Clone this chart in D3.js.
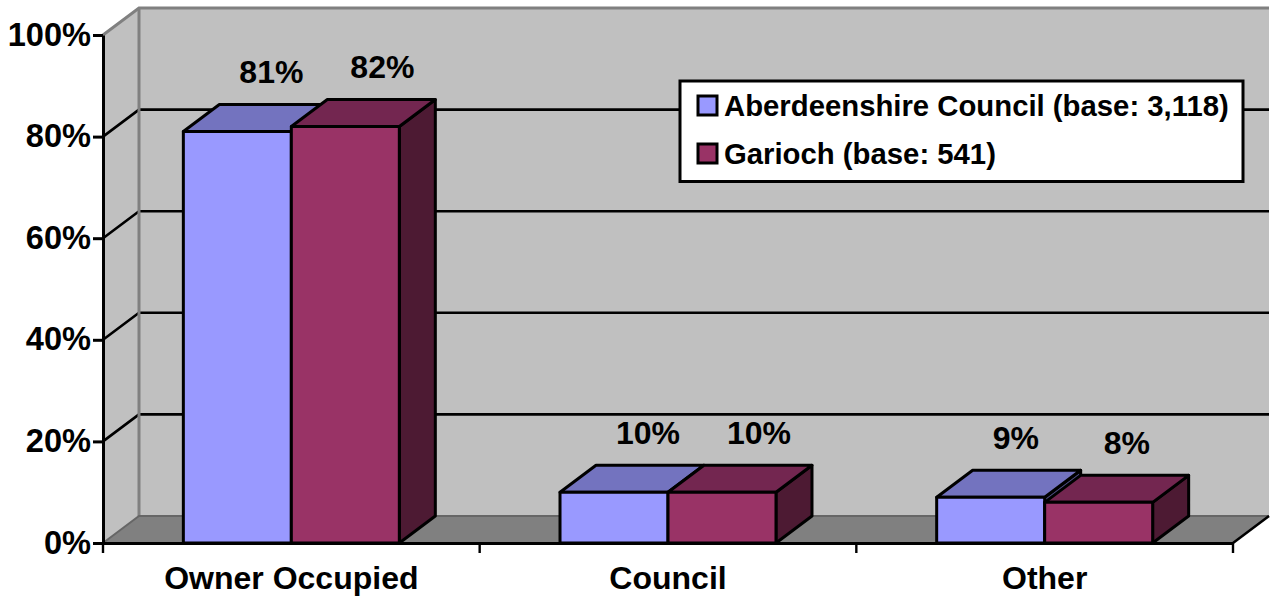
<!DOCTYPE html>
<html><head><meta charset="utf-8">
<script src="https://cdn.jsdelivr.net/npm/d3@7"></script>
<style>
html,body{margin:0;padding:0;background:#fff}
text{font-family:"Liberation Sans",Arial,sans-serif;font-weight:bold;font-size:32px;fill:#000}
text.lg{font-size:29.3px}
text.yt{font-size:32.6px}
</style></head><body>
<svg id="c" width="1271" height="596"></svg>
<script>
const categories = ["Owner Occupied", "Council", "Other"];
const seriesNames = ["Aberdeenshire Council (base: 3,118)", "Garioch (base: 541)"];
const aberdeenshire = [81, 10, 9];
const garioch = [82, 10, 8];
const yTicks = [0, 20, 40, 60, 80, 100];

const colors = {front:["#9999ff","#993366"], top:["#7373bf","#732650"], side:["#4d4d80","#4d1a33"]};
const DX = 36, DY = -27;
const svg = d3.select("#c");
const x = d3.scaleBand().domain(categories).range([103, 1233]);
const x1 = d3.scaleBand().domain(seriesNames).range([0, x.bandwidth()]).paddingInner(0).paddingOuter(0.744);
const y = d3.scaleLinear().domain([0, 100]).range([543, 35]);
const pts = a => a.map(p => p.join(",")).join(" ");
const left = x.range()[0], right = x.range()[1];

// walls and floor
const wall = svg.append("g");
wall.append("polygon").attr("fill","#c0c0c0")
  .attr("points",pts([[left+DX,y(0)+DY],[right+DX,y(0)+DY],[right+DX,y(100)+DY],[left+DX,y(100)+DY]]));
wall.append("polygon").attr("fill","#c0c0c0")
  .attr("points",pts([[left,y(0)],[left+DX,y(0)+DY],[left+DX,y(100)+DY],[left,y(100)]]));
wall.append("polygon").attr("fill","#808080")
  .attr("points",pts([[left,y(0)],[right,y(0)],[right+DX,y(0)+DY],[left+DX,y(0)+DY]]));

// gridlines
yTicks.filter(t => t > 0 && t < 100).forEach(t => {
  wall.append("polyline").attr("fill","none").attr("stroke","#000").attr("stroke-width",2.6)
    .attr("points",pts([[left,y(t)],[left+DX,y(t)+DY],[right+DX,y(t)+DY]]));
});
// wall edges
wall.append("polyline").attr("fill","none").attr("stroke","#808080").attr("stroke-width",3)
  .attr("points",pts([[left,y(100)],[left+DX,y(100)+DY],[right+DX,y(100)+DY]]));
wall.append("line").attr("stroke","#808080").attr("stroke-width",3)
  .attr("x1",left+DX).attr("x2",left+DX).attr("y1",y(100)+DY).attr("y2",y(0)+DY);
wall.append("polyline").attr("fill","none").attr("stroke","#666").attr("stroke-width",2)
  .attr("points",pts([[left,y(0)],[left+DX,y(0)+DY],[right+DX,y(0)+DY]]));
wall.append("line").attr("stroke","#000").attr("stroke-width",2.6)
  .attr("x1",right).attr("x2",right+DX).attr("y1",y(0)).attr("y2",y(0)+DY);

// bars
const series = [aberdeenshire, garioch];
const labelOffset = [56, 59];
categories.forEach((c, ci) => {
  seriesNames.forEach((s, si) => {
    const v = series[si][ci];
    const x0 = x(c) + x1(s), w = x1.bandwidth(), yt = y(v), yb = y(0);
    const g = svg.append("g").attr("stroke","#000").attr("stroke-width",3).attr("stroke-linejoin","round");
    g.append("polygon").attr("fill",colors.side[si])
      .attr("points",pts([[x0+w,yb],[x0+w+DX,yb+DY],[x0+w+DX,yt+DY],[x0+w,yt]]));
    g.append("polygon").attr("fill",colors.top[si])
      .attr("points",pts([[x0,yt],[x0+DX,yt+DY],[x0+w+DX,yt+DY],[x0+w,yt]]));
    g.append("rect").attr("fill",colors.front[si])
      .attr("x",x0).attr("y",yt).attr("width",w).attr("height",yb-yt);
  });
});
// value labels
categories.forEach((c, ci) => {
  seriesNames.forEach((s, si) => {
    const v = series[si][ci];
    svg.append("text").attr("x",x(c)+x1(s)+labelOffset[si]).attr("y",y(v)-48.5).text(v+"%");
  });
});

// axes
const yAxis = d3.axisLeft(y).tickValues(yTicks).tickFormat(d => d + "%").tickSize(10).tickSizeOuter(0).tickPadding(2);
const gy = svg.append("g").attr("transform",`translate(${left},0)`).call(yAxis);
const xAxis = d3.axisBottom(x).tickSize(0).tickPadding(23);
const gx = svg.append("g").attr("transform",`translate(0,${y(0)})`).call(xAxis);
[gy,gx].forEach(g => {
  g.attr("font-size",null).attr("font-family",null);
  g.selectAll("path.domain").attr("stroke","#000").attr("stroke-width",3);
  g.selectAll("line").attr("stroke","#000").attr("stroke-width",3);
  g.selectAll("text").attr("fill","#000");
});
gy.selectAll("text").attr("class","yt").attr("dy","10");
gx.selectAll("text").attr("dy","0.71em");
gx.selectAll("line.bound").data([...categories.map(c => x(c)), right]).join("line").attr("class","bound")
  .attr("x1",d=>d).attr("x2",d=>d).attr("y1",0).attr("y2",10).attr("stroke","#000").attr("stroke-width",2.4);

// legend
const lg = svg.append("g");
lg.append("rect").attr("x",680).attr("y",81).attr("width",563).attr("height",100.5)
  .attr("fill","#fff").attr("stroke","#000").attr("stroke-width",3);
const legendY = d3.scalePoint().domain(seriesNames).range([105.5, 153.5]);
seriesNames.forEach((s, si) => {
  lg.append("rect").attr("x",698).attr("y",legendY(s)-9.5).attr("width",19).attr("height",19)
    .attr("fill",colors.front[si]).attr("stroke","#000").attr("stroke-width",3);
  lg.append("text").attr("class","lg").attr("x",724).attr("y",legendY(s)+10).text(s);
});
</script>
</body></html>
